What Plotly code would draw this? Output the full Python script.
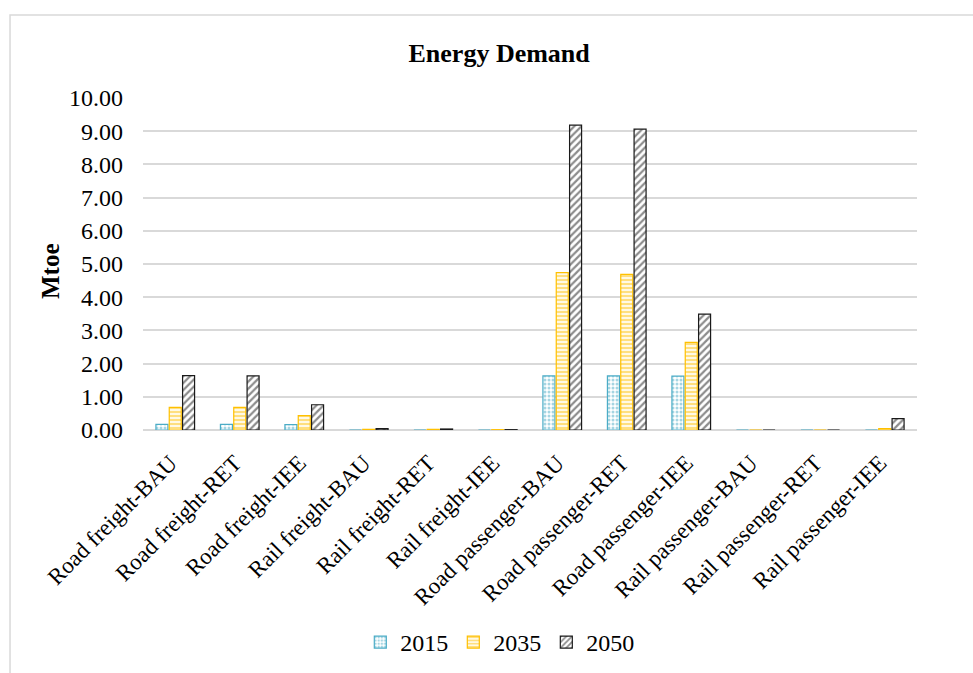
import plotly.graph_objects as go

categories = [
    "Road freight-BAU", "Road freight-RET", "Road freight-IEE",
    "Rail freight-BAU", "Rail freight-RET", "Rail freight-IEE",
    "Road passenger-BAU", "Road passenger-RET", "Road passenger-IEE",
    "Rail passenger-BAU", "Rail passenger-RET", "Rail passenger-IEE",
]
values_2015 = [0.17, 0.17, 0.16, 0.00, 0.00, 0.00, 1.63, 1.63, 1.62, 0.00, 0.00, 0.00]
values_2035 = [0.68, 0.68, 0.43, 0.02, 0.02, 0.01, 4.74, 4.69, 2.64, 0.00, 0.00, 0.04]
values_2050 = [1.64, 1.63, 0.76, 0.04, 0.03, 0.01, 9.18, 9.06, 3.49, 0.00, 0.00, 0.34]
y_ticks = [0, 1, 2, 3, 4, 5, 6, 7, 8, 9, 10]

FONT = "Liberation Serif"

series = [
    ("2015", values_2015, "#4BACC6", ".", 4, 0.45),
    ("2035", values_2035, "#FFC000", "-", 4, 0.6),
    ("2050", values_2050, "#1A1A1A", "/", 5, 0.45),
]

fig = go.Figure()
for name, vals, color, shape, size, solidity in series:
    fig.add_trace(go.Bar(
        name=name,
        x=categories,
        y=vals,
        marker=dict(
            color="white",
            line=dict(color=color, width=1.2),
            pattern=dict(shape=shape, fgcolor=color, bgcolor="white",
                         size=size, solidity=solidity, fillmode="overlay"),
        ),
    ))

# chart frame
fig.add_shape(type="rect", xref="paper", yref="paper",
              x0=-0.1718, x1=1.08, y0=-0.77, y1=1.25,
              line=dict(color="#D9D9D9", width=1.5), fillcolor="rgba(0,0,0,0)",
              layer="below")

# y-axis title
fig.add_annotation(text="<b>Mtoe</b>", xref="paper", yref="paper",
                   x=(50 - 143) / 774, y=(430 - 271) / 332,
                   xanchor="center", yanchor="middle", textangle=-90,
                   showarrow=False, font=dict(family=FONT, size=25, color="black"))

fig.update_layout(
    width=973, height=673,
    margin=dict(l=143, r=56, t=98, b=243, autoexpand=False),
    paper_bgcolor="white", plot_bgcolor="white",
    font=dict(family=FONT, size=24, color="black"),
    title=dict(text="<b>Energy Demand</b>", x=0.513, xanchor="center",
               y=0.921, yanchor="middle", font=dict(family=FONT, size=26)),
    barmode="group", bargap=0.38, bargroupgap=0.1,
    showlegend=True,
    legend=dict(orientation="h", x=0.461, xanchor="center", y=-0.64, yanchor="middle",
                font=dict(family=FONT, size=24, color="black"),
                itemwidth=30, traceorder="normal"),
    xaxis=dict(tickangle=-45, showgrid=False, showline=False, ticks="",
               tickfont=dict(family=FONT, size=23), automargin=False,
               ticklabelshift=-5, ticklabelstandoff=14),
    yaxis=dict(range=[0, 10], tickvals=y_ticks, tickformat=".2f",
               showgrid=True, gridcolor="#D9D9D9", gridwidth=1.5,
               zeroline=True, zerolinecolor="#D9D9D9", zerolinewidth=1.5,
               showline=False, ticks="", ticklen=0, ticklabelstandoff=19,
               automargin=False, tickfont=dict(family=FONT, size=24)),
)

fig.write_html("out.html")
